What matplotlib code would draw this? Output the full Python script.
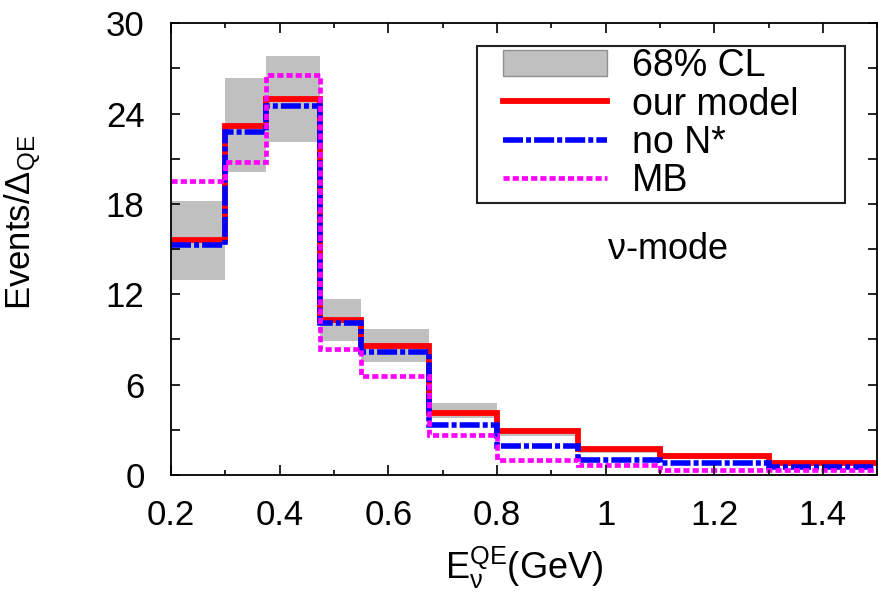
import matplotlib
matplotlib.use("Agg")
import matplotlib.pyplot as plt
from matplotlib.patches import Patch, Rectangle
from matplotlib.lines import Line2D
from matplotlib.ticker import MultipleLocator

plt.rcParams['font.family'] = ['Liberation Sans', 'DejaVu Sans']
plt.rcParams['mathtext.fontset'] = 'custom'
plt.rcParams['mathtext.rm'] = 'Liberation Sans'
plt.rcParams['mathtext.it'] = 'Liberation Sans:italic'
plt.rcParams['mathtext.default'] = 'regular'

# E_QE bin edges (GeV)
edges = [0.2, 0.3, 0.375, 0.475, 0.55, 0.675, 0.8, 0.95, 1.1, 1.3, 1.5]

# 68% CL band
cl_low = [12.95, 20.1, 22.1, 8.9, 7.5, 3.76, 2.6, 1.45, 1.05, 0.65]
cl_high = [18.2, 26.4, 27.8, 11.7, 9.7, 4.76, 3.1, 1.85, 1.4, 0.95]

our_model = [15.6, 23.2, 24.95, 10.3, 8.6, 4.1, 2.9, 1.7, 1.26, 0.82]
no_nstar = [15.3, 22.8, 24.5, 10.1, 8.2, 3.3, 1.9, 1.0, 0.82, 0.5]
mb = [19.5, 20.8, 26.6, 8.4, 6.6, 2.65, 1.0, 0.66, 0.35, 0.35]

blue_ls = (0, (3.6, 0.55, 0.9, 0.55))
mag_ls = (0, (1.3, 0.65))

fig = plt.figure(figsize=(8.79, 5.98), dpi=100)
ax = fig.add_axes([0.1945, 0.2057, 0.8035, 0.7553])

ax.stairs(cl_high, edges, baseline=cl_low, fill=True, color='#c0c0c0', lw=0)
ax.stairs(our_model, edges, baseline=None, color='red', lw=4.2)
ax.stairs(no_nstar, edges, baseline=None, color='blue', lw=4.0, linestyle=blue_ls)
ax.stairs(mb, edges, baseline=None, color='magenta', lw=3.4, linestyle=mag_ls)

ax.set_xlim(0.2, 1.5)
ax.set_ylim(0, 30)
ax.xaxis.set_minor_locator(MultipleLocator(0.1))
ax.yaxis.set_major_locator(MultipleLocator(6))
ax.yaxis.set_minor_locator(MultipleLocator(3))
ax.set_xticks([0.2, 0.4, 0.6, 0.8, 1.0, 1.2, 1.4])
ax.set_xticklabels(['0.2', '0.4', '0.6', '0.8', '1', '1.2', '1.4'])
ax.tick_params(which='both', direction='in', top=True, right=True, labelsize=25, width=1.2)
ax.tick_params(axis='x', which='major', length=7, pad=17)
ax.tick_params(axis='x', which='minor', length=3.5)
ax.tick_params(axis='y', which='both', length=6.5, pad=19)
for s in ax.spines.values():
    s.set_linewidth(1.3)

ax.set_xlabel(r'$E_{\nu}^{QE}$(GeV)', fontsize=26)
ax.set_ylabel(r'Events/$\Delta_{QE}$', fontsize=25)
ax.xaxis.set_label_coords(0.5, -0.155)
ax.yaxis.set_label_coords(-0.181, 0.56)

ax.text(0.703, 0.5, r'$\nu$-mode', transform=ax.transAxes, fontsize=26,
        ha='center', va='center')

# legend frame drawn separately: wide side padding, tight top/bottom
ax.add_patch(Rectangle((0.434, 0.602), 0.5205, 0.348, transform=ax.transAxes,
                       facecolor='white', edgecolor='#222222', lw=1.5, zorder=4))

handles = [
    Patch(facecolor='#c0c0c0', edgecolor='#909090', lw=1),
    Line2D([], [], color='red', lw=4.2),
    Line2D([], [], color='blue', lw=4.0, linestyle=blue_ls),
    Line2D([], [], color='magenta', lw=3.4, linestyle=mag_ls),
]
labels = ['68% CL', 'our model', 'no N*', 'MB']
leg = ax.legend(handles, labels, loc='upper left', bbox_to_anchor=(0.4696, 0.945),
                fontsize=27, handlelength=2.77, handletextpad=0.67,
                labelspacing=0.065, borderpad=0, borderaxespad=0, frameon=False)
leg.set_zorder(5)

fig.savefig('out.png', dpi=100)
